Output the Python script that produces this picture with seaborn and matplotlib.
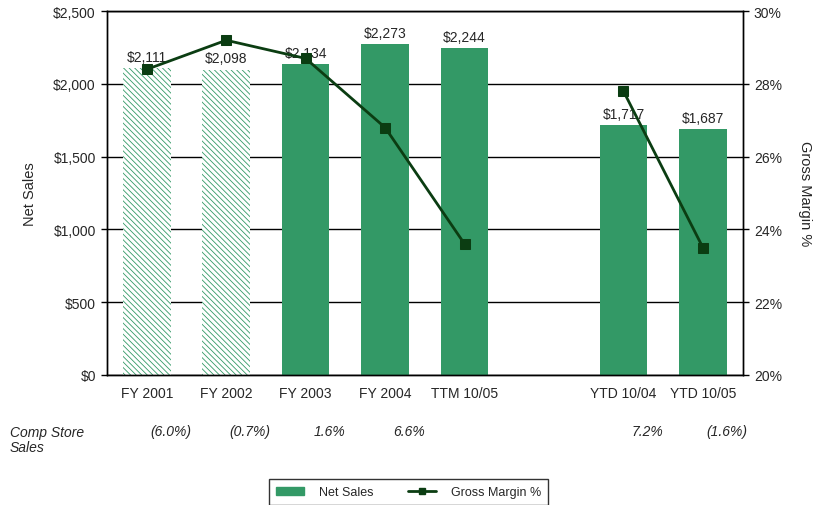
import numpy as np
import pandas as pd
import matplotlib
matplotlib.use("Agg")
import matplotlib.pyplot as plt
import matplotlib.transforms as mtransforms
from matplotlib.patches import Patch
from matplotlib.lines import Line2D
import seaborn as sns

# ============================================================
# Data
# ============================================================

categories = ["FY 2001", "FY 2002", "FY 2003", "FY 2004", "TTM 10/05", " ",
              "YTD 10/04", "YTD 10/05"]
net_sales = [2111, 2098, 2134, 2273, 2244, np.nan, 1717, 1687]
gross_margin = [28.4, 29.2, 28.7, 26.8, 23.6, np.nan, 27.8, 23.5]
line_segment = [0, 0, 0, 0, 0, np.nan, 1, 1]
comp_store = ["(6.0%)", "(0.7%)", "1.6%", "6.6%", "", "", "7.2%", "(1.6%)"]
hatched = [True, True, False, False, False, False, False, False]

bar_green = "#339966"
line_green = "#0b3d12"

df = pd.DataFrame({
    "period": categories,
    "sales": net_sales,
    "margin": gross_margin,
    "segment": line_segment,
})
df["pos"] = np.arange(len(df))

# ============================================================
# Figure
# ============================================================

sns.set_theme(style="white")
plt.rcParams["font.family"] = ["Liberation Sans", "DejaVu Sans"]
plt.rcParams["hatch.linewidth"] = 0.6

fig = plt.figure(figsize=(8.17, 5.06), dpi=100)
ax = fig.add_axes([0.131, 0.257, 0.778, 0.719])

sns.barplot(data=df, x="period", y="sales", order=categories,
            color=bar_green, width=0.6, saturation=1, linewidth=0,
            ax=ax, zorder=2)

for patch, h in zip(ax.patches, [h for h, v in zip(hatched, net_sales) if not np.isnan(v)]):
    if h:
        patch.set_facecolor("white")
        patch.set_edgecolor(bar_green)
        patch.set_hatch("\\\\\\\\\\\\")
        patch.set_linewidth(0)

labels = [f"${v:,.0f}" for v in net_sales if not np.isnan(v)]
ax.bar_label(ax.containers[0], labels=labels, padding=3, fontsize=10, zorder=5)

ax.set_ylim(0, 2500)
ax.set_xlim(-0.5, 7.5)
ax.set_yticks(np.arange(0, 2501, 500))
ax.set_yticklabels([f"${v:,.0f}" for v in np.arange(0, 2501, 500)], fontsize=10)
ax.tick_params(axis="x", labelsize=10, length=0, pad=8)
ax.tick_params(axis="y", length=4, width=1, color="black", left=True, pad=4)
ax.yaxis.grid(True, color="black", linewidth=1)
ax.set_axisbelow(True)
ax.set_xlabel("")
ax.set_ylabel("Net Sales", fontsize=10.5, labelpad=12)
for s in ax.spines.values():
    s.set_color("black")
    s.set_linewidth(1)

# ============================================================
# Gross Margin line
# ============================================================

ax2 = ax.twinx()
line_df = df.dropna(subset=["margin"])
sns.lineplot(data=line_df, x="pos", y="margin", units="segment", estimator=None,
             color=line_green, linewidth=2, marker="s", markersize=6.5,
             markeredgecolor=line_green, ax=ax2, zorder=4)
ax2.set_ylim(20, 30)
ax2.set_yticks(np.arange(20, 31, 2))
ax2.set_yticklabels([f"{v}%" for v in range(20, 31, 2)], fontsize=10)
ax2.tick_params(axis="y", length=4, width=1, color="black", right=True, pad=4)
ax2.set_ylabel("Gross Margin %", fontsize=10.5, rotation=270, labelpad=22)
ax2.set_xlabel("")
ax2.set_xlim(-0.5, 7.5)
for s in ax2.spines.values():
    s.set_color("black")
    s.set_linewidth(1)

# ============================================================
# Comp Store Sales row
# ============================================================

trans = mtransforms.blended_transform_factory(ax.transData, fig.transFigure)
fig.text(0.012, 0.159, "Comp Store\nSales", fontsize=10, style="italic",
         va="top", ha="left", linespacing=1.15)
for i, txt in enumerate(comp_store):
    if txt:
        ax.text(i + 0.3, 0.146, txt, transform=trans, fontsize=10,
                style="italic", ha="center", va="center")

# ============================================================
# Legend
# ============================================================

handles = [
    Patch(facecolor=bar_green, edgecolor=bar_green),
    Line2D([0], [0], color=line_green, linewidth=2, marker="s", markersize=5),
]
leg = fig.legend(handles, ["Net Sales", "Gross Margin %"], loc="center",
                 bbox_to_anchor=(0.5, 0.025), ncol=2, fontsize=9,
                 frameon=True, fancybox=False, edgecolor="black",
                 handlelength=2.2, columnspacing=2.8, borderpad=0.55,
                 handletextpad=1.2)
leg.get_frame().set_linewidth(1)

fig.savefig("out.png", dpi=100)
